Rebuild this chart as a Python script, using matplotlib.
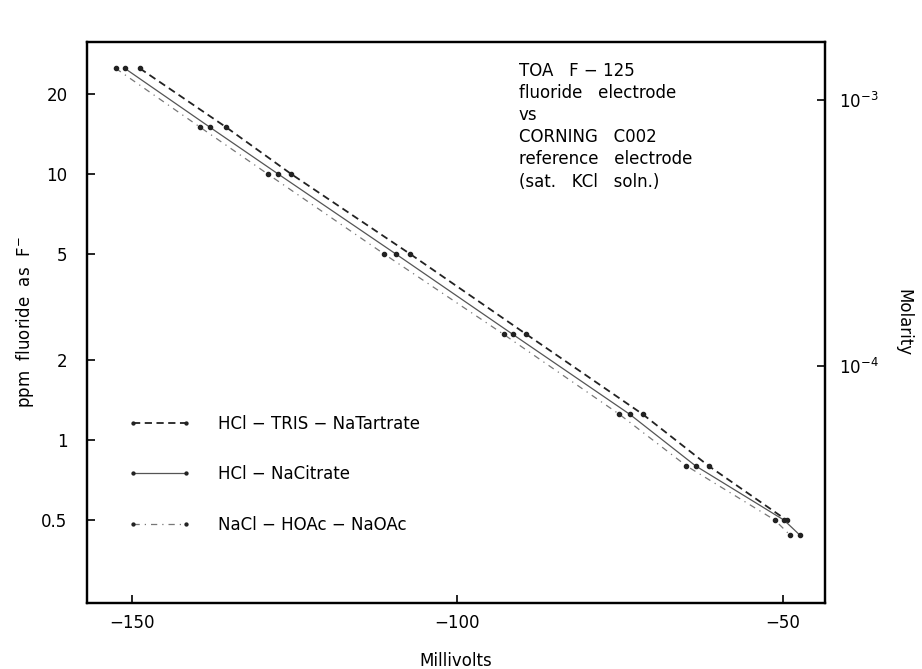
import matplotlib.pyplot as plt
from matplotlib.ticker import FixedLocator, NullLocator

# ppm F- for each standard, and the readings (mV) for the three buffers
ppm = [25, 15, 10, 5, 2.5, 1.25, 0.8, 0.5]
mv_tartrate = [-148.8, -135.5, -125.5, -107.2, -89.4, -71.5, -61.4, -49.4]
mv_citrate = [-151.1, -138.0, -127.5, -109.4, -91.5, -73.5, -63.4, -49.8]
mv_acetate = [-152.5, -139.5, -129.1, -111.2, -92.9, -75.1, -64.8, -51.2]

# last low-concentration points on citrate and acetate lines
ppm_low = 0.44
mv_citrate_low = -47.4
mv_acetate_low = -48.9

yticks = [0.5, 1, 2, 5, 10, 20]
ytick_labels = ['0.5', '1', '2', '5', '10', '20']
xticks = [-150, -100, -50]
xtick_labels = ['\u2212150', '\u2212100', '\u221250']
mol_ticks = [1e-4, 1e-3]
mol_labels = ['10$^{-4}$', '10$^{-3}$']

note = ("TOA   F \u2212 125\nfluoride   electrode\nvs\nCORNING   C002\n"
        "reference   electrode\n(sat.   KCl   soln.)")

fig = plt.figure(figsize=(9.22, 6.69), dpi=100)
ax = fig.add_axes([0.0944, 0.0987, 0.8004, 0.8385])

ax.plot(mv_tartrate, ppm, color='#222222', linestyle=(0, (4, 2.5)), lw=1.3,
        marker='o', markersize=3, label='HCl \u2212 TRIS \u2212 NaTartrate')
ax.plot(mv_citrate + [mv_citrate_low], ppm + [ppm_low], color='#555555', linestyle='-', lw=0.9,
        marker='o', markersize=3, markerfacecolor='#222222', markeredgecolor='#222222',
        label='HCl \u2212 NaCitrate')
ax.plot(mv_acetate + [mv_acetate_low], ppm + [ppm_low], color='#777777',
        linestyle=(0, (5, 4, 1, 4)), lw=0.9, marker='o', markersize=3,
        markerfacecolor='#222222', markeredgecolor='#222222', label='NaCl \u2212 HOAc \u2212 NaOAc')

ax.set_yscale('log')
ax.set_xlim(-156.9, -43.5)
ax.set_ylim(0.244, 31.4)
ax.yaxis.set_major_locator(FixedLocator(yticks))
ax.yaxis.set_minor_locator(NullLocator())
ax.set_yticklabels(ytick_labels)
ax.set_xticks(xticks)
ax.set_xticklabels(xtick_labels)
ax.tick_params(direction='in', length=6, width=1.2, labelsize=12)
ax.tick_params(axis='x', pad=8)
ax.tick_params(axis='y', pad=14)
for s in ax.spines.values():
    s.set_linewidth(1.6)

ax.set_xlabel('Millivolts', fontsize=12, labelpad=14)
ax.set_ylabel('ppm  fluoride  as  F$^{-}$', fontsize=12, labelpad=4)

ax2 = ax.twinx()
ax2.set_yscale('log')
ax2.set_ylim(0.244 / 19000, 31.4 / 19000)
ax2.yaxis.set_major_locator(FixedLocator(mol_ticks))
ax2.yaxis.set_minor_locator(NullLocator())
ax2.set_yticklabels(mol_labels)
ax2.tick_params(direction='in', length=6, width=1.2, labelsize=12, pad=10)
ax2.set_ylabel('Molarity', fontsize=12, rotation=-90, labelpad=24)
for s in ax2.spines.values():
    s.set_linewidth(1.6)

ax.text(0.585, 0.965, note, transform=ax.transAxes, fontsize=12, va='top', ha='left',
        linespacing=1.3)

leg = ax.legend(loc='lower left', bbox_to_anchor=(0.035, 0.097), frameon=False, fontsize=12,
                numpoints=2, handlelength=3.8, handletextpad=1.6, labelspacing=1.95,
                markerscale=0.7)

fig.savefig('out.png', dpi=100)
